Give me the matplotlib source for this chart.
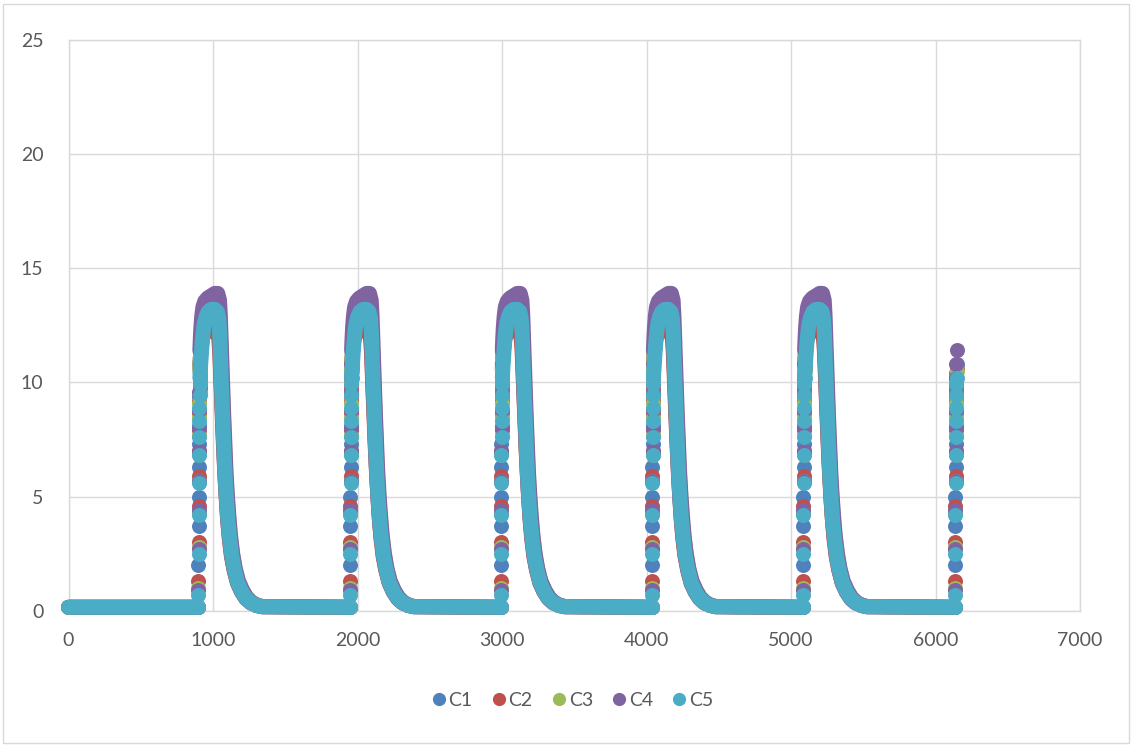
import numpy as np
import matplotlib
matplotlib.use('Agg')
import matplotlib.pyplot as plt
from matplotlib.lines import Line2D
from matplotlib.patches import Rectangle

plt.rcParams['font.family'] = ['Lato', 'DejaVu Sans']

series_names = ['C1', 'C2', 'C3', 'C4', 'C5']
series_colors = ['#4F81BD', '#C0504D', '#9BBB59', '#8064A2', '#4BACC6']

# sample index where each pulse starts, last sample of the record
pulse_start = [898, 1948, 2991, 4037, 5083, 6135]
last_x = 6146
base_level = 0.15

# first samples of every rising edge (one sample per unit)
rise_dx = [0, 1, 2, 3, 4, 5, 6, 7, 8, 9, 10, 11]
rise_c1 = [0.15, 2.0, 3.7, 5.0, 6.3, 7.3, 8.1, 8.8, 9.4, 9.9, 10.4, 10.8]
rise_c2 = [0.15, 1.3, 3.0, 4.6, 5.9, 7.0, 7.9, 8.6, 9.2, 9.7, 10.2, 10.6]
rise_c3 = [0.15, 1.0, 2.8, 4.3, 5.7, 6.8, 7.7, 8.5, 9.1, 9.6, 10.1, 10.5]
rise_c4 = [0.15, 0.9, 2.7, 4.4, 5.7, 7.0, 8.0, 8.8, 9.6, 10.2, 10.8, 11.4]
rise_c5 = [0.15, 0.7, 2.5, 4.2, 5.6, 6.8, 7.6, 8.3, 8.9, 9.45, 9.95, 10.2]

# plateau and decay of each pulse (offset from pulse start, value)
arch_dx_c1 = [11, 16, 22, 28, 34, 42, 55, 70, 90, 115, 132, 142, 148, 152, 157,
              163, 170, 178, 186, 195, 205, 217, 232, 250, 272, 300, 330, 365, 400, 440]
arch_y_c1 = [10.8, 11.2, 11.6, 12.0, 12.3, 12.5, 12.65, 12.7, 12.75, 12.75, 12.6, 12.3, 11.8, 11.1, 10.2,
             9.2, 8.1, 6.9, 5.8, 4.8, 3.9, 3.1, 2.35, 1.75, 1.2, 0.82, 0.52, 0.33, 0.23, 0.17]
arch_dx_c2 = [11, 15, 20, 28, 40, 60, 90, 115, 132, 142, 148, 153, 159, 166,
              174, 183, 192, 202, 214, 229, 247, 270, 298, 330, 365, 400, 440]
arch_y_c2 = [10.6, 11.1, 11.5, 11.9, 12.1, 12.25, 12.3, 12.3, 12.2, 11.9, 11.4, 10.6, 9.7, 8.6,
             7.3, 6.1, 5.1, 4.1, 3.2, 2.4, 1.8, 1.25, 0.85, 0.55, 0.35, 0.24, 0.18]
arch_dx_c3 = [11, 14, 18, 24, 32, 45, 65, 90, 115, 135, 147, 153, 158, 163, 169,
              176, 184, 192, 201, 211, 223, 238, 256, 278, 306, 336, 370, 405, 445]
arch_y_c3 = [10.5, 11.0, 11.5, 12.0, 12.4, 12.7, 12.85, 12.9, 12.95, 12.9, 12.6, 12.0, 11.2, 10.3, 9.3,
             8.1, 6.9, 5.8, 4.9, 4.0, 3.2, 2.45, 1.8, 1.28, 0.88, 0.57, 0.36, 0.25, 0.18]
arch_dx_c4 = [11, 14, 18, 24, 32, 45, 65, 90, 115, 135, 147, 153, 158, 163, 169,
              176, 184, 192, 201, 211, 223, 238, 256, 278, 306, 336, 370, 405, 445]
arch_y_c4 = [11.4, 11.9, 12.4, 12.9, 13.3, 13.55, 13.7, 13.8, 13.9, 13.9, 13.6, 12.9, 12.0, 11.0, 9.9,
             8.6, 7.3, 6.1, 5.1, 4.2, 3.3, 2.5, 1.85, 1.3, 0.9, 0.58, 0.37, 0.25, 0.18]
arch_dx_c5 = [11, 16, 22, 28, 34, 42, 55, 70, 90, 115, 132, 142, 148, 152, 157,
              163, 170, 178, 186, 195, 205, 217, 232, 250, 272, 300, 330, 365, 400, 440]
arch_y_c5 = [10.2, 10.7, 11.3, 11.8, 12.2, 12.6, 12.9, 13.1, 13.2, 13.2, 13.1, 12.8, 12.2, 11.4, 10.5,
             9.5, 8.3, 7.0, 5.9, 4.9, 4.0, 3.2, 2.4, 1.8, 1.25, 0.85, 0.55, 0.35, 0.24, 0.18]

rises = [rise_c1, rise_c2, rise_c3, rise_c4, rise_c5]
arches = [(arch_dx_c1, arch_y_c1), (arch_dx_c2, arch_y_c2), (arch_dx_c3, arch_y_c3),
          (arch_dx_c4, arch_y_c4), (arch_dx_c5, arch_y_c5)]

W, H = 1132, 745
dpi = 100
fig = plt.figure(figsize=(W / dpi, H / dpi), dpi=dpi)
ax = fig.add_axes([68.5 / W, 1 - 610.7 / H, (1080 - 68.5) / W, (610.7 - 40) / H])

dot = 15 * 72 / dpi  # marker diameter in points

for k in range(5):
    col = series_colors[k]
    adx, ay = arches[k]
    # dense part of the record: baseline, plateau and decay
    xs = [0, pulse_start[0]]
    ys = [base_level, base_level]
    for i in range(len(pulse_start) - 1):
        xs.append(np.nan)
        ys.append(np.nan)
        xs += [pulse_start[i] + d for d in adx] + [pulse_start[i + 1]]
        ys += list(ay) + [base_level]
    ax.plot(xs, ys, color=col, lw=dot, solid_capstyle='round',
            solid_joinstyle='round', clip_on=False, zorder=2 + k)
    # sparse samples on the rising edges
    rx, ry = [], []
    for x0 in pulse_start:
        for d, v in zip(rise_dx, rises[k]):
            if x0 + d <= last_x:
                rx.append(x0 + d)
                ry.append(v)
    ax.scatter(rx, ry, s=dot ** 2, color=col, linewidths=0, clip_on=False, zorder=2 + k)

ax.set_xlim(0, 7000)
ax.set_ylim(0, 25)
ax.set_xticks(np.arange(0, 7001, 1000))
ax.set_yticks(np.arange(0, 26, 5))
ax.grid(True, color='#D9D9D9', lw=1.0)
ax.set_axisbelow(True)
for s in ax.spines.values():
    s.set_color('#D9D9D9')
    s.set_linewidth(1.0)
ax.tick_params(length=0, labelsize=14, labelcolor='#595959')
ax.tick_params(axis='x', pad=15)
ax.tick_params(axis='y', pad=18)

handles = [Line2D([], [], ls='', marker='o', ms=9.5, color=c, markeredgewidth=0)
           for c in series_colors]
fig.legend(handles, series_names, loc='center', bbox_to_anchor=(0.505, 1 - 700 / H),
           ncol=5, frameon=False, fontsize=14, labelcolor='#595959',
           handletextpad=0.05, columnspacing=0.9, handlelength=0.9)

fig.add_artist(Rectangle((0.003, 0.003), 0.994, 0.992, transform=fig.transFigure,
                         fill=False, edgecolor='#D9D9D9', lw=1.0))

fig.savefig('out.png', dpi=dpi)
